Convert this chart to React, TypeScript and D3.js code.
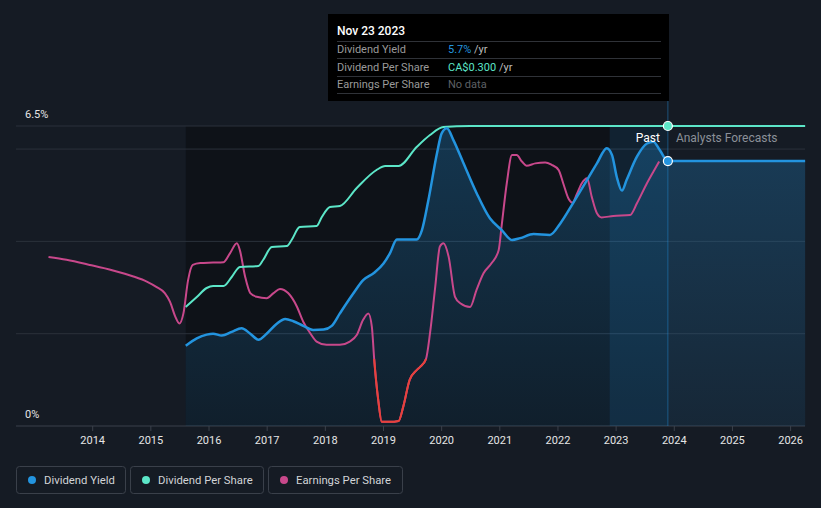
import React from "react";
import * as d3 from "d3";

// ---------- DATA ----------
const yearTicks = [2014, 2015, 2016, 2017, 2018, 2019, 2020, 2021, 2022, 2023, 2024, 2025, 2026];

// Dividend yield (%), decimal year
const yieldDates = [2015.6, 2015.79, 2015.96, 2016.07, 2016.22, 2016.39, 2016.56, 2016.71, 2016.85, 2016.99, 2017.16, 2017.31, 2017.45, 2017.62, 2017.79, 2017.97, 2018.11, 2018.25, 2018.48, 2018.65, 2018.84, 2019.0, 2019.11, 2019.23, 2019.57, 2019.66, 2019.77, 2019.92, 2020.0, 2020.09, 2020.2, 2020.37, 2020.6, 2020.83, 2021.03, 2021.21, 2021.35, 2021.58, 2021.86, 2022.04, 2022.26, 2022.5, 2022.67, 2022.84, 2022.93, 2023.01, 2023.1, 2023.18, 2023.36, 2023.53, 2023.64, 2023.75, 2023.89, 2026.25];
const yieldValues = [1.74, 1.9, 1.98, 2.0, 1.96, 2.04, 2.12, 2.0, 1.87, 2.0, 2.21, 2.32, 2.27, 2.17, 2.08, 2.09, 2.17, 2.44, 2.87, 3.16, 3.32, 3.52, 3.74, 4.04, 4.04, 4.24, 4.88, 5.91, 6.34, 6.45, 6.2, 5.71, 5.05, 4.5, 4.25, 4.03, 4.07, 4.16, 4.14, 4.39, 4.83, 5.33, 5.69, 6.02, 5.87, 5.4, 5.1, 5.33, 5.84, 6.12, 6.16, 5.98, 5.74, 5.74];

// Dividend per share (CA$)
const dpsDates = [2015.6, 2015.79, 2015.96, 2016.07, 2016.25, 2016.39, 2016.53, 2016.85, 2016.93, 2017.08, 2017.34, 2017.42, 2017.56, 2017.85, 2017.94, 2018.08, 2018.25, 2018.54, 2018.88, 2019.03, 2019.26, 2019.57, 2019.8, 2020.03, 2020.49, 2023.89, 2026.25];
const dpsValues = [0.119, 0.129, 0.138, 0.14, 0.14, 0.149, 0.159, 0.16, 0.166, 0.179, 0.18, 0.186, 0.199, 0.2, 0.209, 0.219, 0.22, 0.238, 0.256, 0.26, 0.26, 0.279, 0.291, 0.299, 0.3, 0.3, 0.3];

// Earnings per share (plotted on the yield-equivalent scale)
const epsDates = [2013.24, 2013.55, 2013.95, 2014.35, 2014.7, 2014.93, 2015.1, 2015.24, 2015.33, 2015.42, 2015.49, 2015.56, 2015.64, 2015.72, 2015.85, 2016.07, 2016.25, 2016.36, 2016.48, 2016.53, 2016.62, 2016.71, 2016.82, 2016.99, 2017.11, 2017.22, 2017.36, 2017.51, 2017.62, 2017.74, 2017.85, 2018.02, 2018.25, 2018.42, 2018.54, 2018.65, 2018.74, 2018.8, 2018.84, 2018.91, 2018.97, 2019.11, 2019.26, 2019.34, 2019.45, 2019.57, 2019.63, 2019.73, 2019.8, 2019.89, 2019.97, 2020.03, 2020.12, 2020.23, 2020.32, 2020.49, 2020.6, 2020.72, 2020.86, 2020.98, 2021.03, 2021.12, 2021.21, 2021.29, 2021.38, 2021.46, 2021.61, 2021.78, 2021.89, 2022.01, 2022.09, 2022.18, 2022.25, 2022.32, 2022.41, 2022.5, 2022.58, 2022.67, 2022.75, 2022.95, 2023.24, 2023.36, 2023.53, 2023.64, 2023.74];
const epsValues = [3.66, 3.6, 3.49, 3.37, 3.24, 3.13, 3.01, 2.88, 2.69, 2.37, 2.22, 2.44, 3.16, 3.49, 3.53, 3.54, 3.55, 3.74, 3.96, 3.81, 3.24, 2.88, 2.8, 2.77, 2.88, 2.97, 2.88, 2.59, 2.26, 2.01, 1.83, 1.76, 1.76, 1.83, 1.97, 2.3, 2.44, 2.15, 1.45, 0.56, 0.09, 0.09, 0.11, 0.42, 1.0, 1.21, 1.28, 1.45, 2.01, 3.02, 3.89, 3.96, 3.67, 2.8, 2.66, 2.58, 2.95, 3.31, 3.53, 3.81, 4.32, 5.26, 5.87, 5.87, 5.73, 5.64, 5.69, 5.71, 5.66, 5.55, 5.26, 4.93, 4.84, 5.01, 5.26, 5.37, 4.97, 4.61, 4.52, 4.55, 4.57, 4.83, 5.26, 5.51, 5.73];
const epsRedThreshold = 1.45;
const epsRedRange = [2018.75, 2019.8];

const nowDate = 2023.89;
const pastBandStart = 2022.89;
const dataStart = 2015.6;
const yieldMax = 6.5;
const dpsMax = 0.3;

const legendItems = ["Dividend Yield", "Dividend Per Share", "Earnings Per Share"];
const tooltipRows = [
  { label: "Dividend Yield", value: "5.7%", unit: " /yr" },
  { label: "Dividend Per Share", value: "CA$0.300", unit: " /yr" },
  { label: "Earnings Per Share", value: "No data", unit: "" },
];

// ---------- STYLE ----------
const W = 821, H = 508;
const BG = "#151b24";
const DARK = "#0e1218";
const C_YIELD = "#2394df";
const C_DPS = "#5ce6c8";
const C_EPS = "#c8488b";
const C_RED = "#e8413a";
const FONT = "Roboto, 'Open Sans', sans-serif";

export default function App() {
  const x = d3.scaleLinear().domain([2014, 2026]).range([92.7, 790.6]);
  const y = d3.scaleLinear().domain([0, yieldMax]).range([426, 126]);
  const yDps = d3.scaleLinear().domain([0, dpsMax]).range([426, 126]);
  const left = 16, right = 805;
  const top = y(yieldMax), bottom = y(0);

  const yieldData = yieldDates.map((d, i) => [d, yieldValues[i]] as [number, number]);
  const dpsData = dpsDates.map((d, i) => [d, dpsValues[i]] as [number, number]);
  const epsData = epsDates.map((d, i) => [d, epsValues[i]] as [number, number]);

  const curve = d3.curveMonotoneX;
  const yieldLine = d3.line<[number, number]>().x(d => x(d[0])).y(d => y(d[1])).curve(curve);
  const yieldArea = d3.area<[number, number]>().x(d => x(d[0])).y0(bottom).y1(d => y(d[1])).curve(curve);
  const dpsLine = d3.line<[number, number]>().x(d => x(d[0])).y(d => yDps(d[1])).curve(curve);
  const epsLine = d3.line<[number, number]>().x(d => x(d[0])).y(d => y(d[1])).curve(curve);

  const grid = [0, 2, 4, 6, 6.5];
  const nowX = x(nowDate);
  const lastYield = yieldValues[yieldValues.length - 1];
  const lastDps = dpsValues[dpsValues.length - 1];

  const legendW = [109, 133, 134];
  let lx = 16;
  const legendPos = legendW.map(w => { const p = lx; lx += w + 5; return p; });
  const legendColors = [C_YIELD, C_DPS, C_EPS];

  return (
    <svg width={W} height={H} style={{ position: "absolute", left: 0, top: 0, fontFamily: FONT }}>
      <defs>
        <linearGradient id="areaGrad" gradientUnits="userSpaceOnUse" x1="0" y1={top} x2="0" y2={bottom}>
          <stop offset="0%" stopColor={C_YIELD} stopOpacity={0.28} />
          <stop offset="100%" stopColor={C_YIELD} stopOpacity={0.1} />
        </linearGradient>
        <clipPath id="redClip">
          <rect x={x(epsRedRange[0])} y={y(epsRedThreshold)} width={x(epsRedRange[1]) - x(epsRedRange[0])} height={bottom - y(epsRedThreshold) + 10} />
        </clipPath>
      </defs>
      <rect x={0} y={0} width={W} height={H} fill={BG} />
      <rect x={x(dataStart)} y={top} width={nowX - x(dataStart)} height={bottom - top} fill={DARK} />

      {grid.map(g => (
        <line key={g} x1={left} x2={right} y1={y(g)} y2={y(g)} stroke={g === 0 ? "#3b414b" : "#2b313b"} strokeWidth={1} />
      ))}

      <path d={yieldArea(yieldData) || ""} fill="url(#areaGrad)" />

      <rect x={x(pastBandStart)} y={top} width={nowX - x(pastBandStart)} height={bottom - top} fill={C_YIELD} fillOpacity={0.13} />
      <line x1={nowX} x2={nowX} y1={14} y2={bottom} stroke={C_YIELD} strokeOpacity={0.45} strokeWidth={1} />

      <path d={epsLine(epsData) || ""} fill="none" stroke={C_EPS} strokeWidth={2} />
      <path d={epsLine(epsData) || ""} fill="none" stroke={C_RED} strokeWidth={2} clipPath="url(#redClip)" />
      <path d={dpsLine(dpsData) || ""} fill="none" stroke={C_DPS} strokeWidth={2} />
      <path d={yieldLine(yieldData) || ""} fill="none" stroke={C_YIELD} strokeWidth={2.5} />

      <circle cx={nowX} cy={yDps(lastDps)} r={4.5} fill={C_DPS} stroke="#ffffff" strokeWidth={1.2} />
      <circle cx={nowX} cy={y(lastYield)} r={4.5} fill={C_YIELD} stroke="#ffffff" strokeWidth={1.2} />

      <text x={nowX - 8} y={142} textAnchor="end" fill="#ffffff" fontSize={12}>Past</text>
      <text x={nowX + 8} y={142} fill="#8b9098" fontSize={12}>Analysts Forecasts</text>

      <text x={25} y={118} fill="#e6e6e6" fontSize={11}>6.5%</text>
      <text x={25} y={418} fill="#e6e6e6" fontSize={11}>0%</text>

      {yearTicks.map(t => (
        <g key={t}>
          <line x1={x(t)} x2={x(t)} y1={bottom} y2={bottom + 5} stroke="#3b414b" />
          <text x={x(t)} y={bottom + 18} textAnchor="middle" fill="#e6e6e6" fontSize={11}>{t}</text>
        </g>
      ))}

      {/* tooltip */}
      <rect x={328} y={14} width={341} height={87} fill="#000000" />
      <text x={337} y={35} fill="#ffffff" fontSize={12} fontWeight={500}>Nov 23 2023</text>
      {[41, 58, 76, 93].map(ly => (
        <line key={ly} x1={337} x2={661} y1={ly + 0.5} y2={ly + 0.5} stroke="#2f3238" />
      ))}
      {tooltipRows.map((r, i) => (
        <g key={r.label}>
          <text x={337} y={53 + i * 17.5} fill="#9a9a9a" fontSize={11}>{r.label}</text>
          <text x={448} y={53 + i * 17.5} fontSize={11}>
            <tspan fill={i === 0 ? C_YIELD : i === 1 ? C_DPS : "#5e6166"}>{r.value}</tspan>
            <tspan fill="#bdbdbd">{r.unit}</tspan>
          </text>
        </g>
      ))}

      {/* legend */}
      {legendItems.map((item, i) => (
        <g key={item}>
          <rect x={legendPos[i] + 0.5} y={466.5} width={legendW[i]} height={27} rx={3} fill="none" stroke="#3a404a" />
          <circle cx={legendPos[i] + 16} cy={480} r={4} fill={legendColors[i]} />
          <text x={legendPos[i] + 28} y={484} fill="#d2d4d7" fontSize={11.3}>{item}</text>
        </g>
      ))}
    </svg>
  );
}
